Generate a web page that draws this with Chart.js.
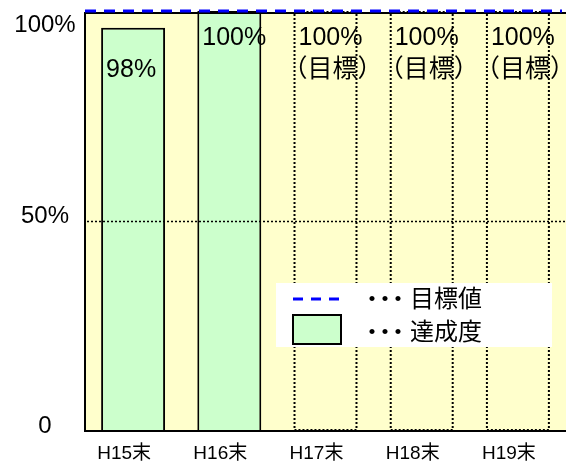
<!DOCTYPE html>
<html>
<head>
<meta charset="utf-8">
<script src="https://cdn.jsdelivr.net/npm/chart.js@4.4.0/dist/chart.umd.min.js"></script>
<style>
  body { margin: 0; background: #fff; }
</style>
</head>
<body>
<canvas id="myChart" width="566" height="462"></canvas>
<script>
let categories = ['H15末', 'H16末', 'H17末', 'H18末', 'H19末'];
let achieved = [96, 100, null, null, null];
let planned = [null, null, 100, 100, 100];
let targetValue = [100];
let yTicks = [0, 50, 100];
let yTickLabels = ['0', '50%', '100%'];
let gridValues = [50];
let barTextTop = ['', '100%', '100%', '100%', '100%'];
let barTextBottom = ['98%', '', '（目標）', '（目標）', '（目標）'];
let legendNames = ['目標値', '達成度'];

const FONT = "'Liberation Sans', 'Noto Sans CJK JP', sans-serif";
const BG = '#FFFFCC';
const GREEN = '#CCFFCC';

// everything the library does not draw by itself
let chartDeco = {
  id: 'chartDeco',
  beforeDatasetsDraw(chart) {
    let a = chart.chartArea, ctx = chart.ctx;
    ctx.save();
    ctx.fillStyle = BG;
    ctx.fillRect(a.left, a.top + 2, a.right - a.left, a.bottom - a.top - 2);
    ctx.restore();
  },
  afterDatasetsDraw(chart) {
    let a = chart.chartArea, ctx = chart.ctx;
    let ys = chart.scales.y;
    let meta = chart.getDatasetMeta(1);
    ctx.save();
    ctx.strokeStyle = '#000';
    ctx.lineWidth = 2;
    ctx.setLineDash([2, 2]);
    meta.data.forEach(function (bar, i) {
      if (planned[i] == null) return;
      let p = bar.getProps(['x', 'y', 'base', 'width'], true);
      ctx.strokeRect(p.x - p.width / 2 + 1, p.y + 1, p.width - 2, p.base - p.y - 2);
    });
    // dotted grid line over the bars
    ctx.lineWidth = 1.5;
    ctx.setLineDash([2, 2]);
    gridValues.forEach(function (v) {
      let y = Math.round(ys.getPixelForValue(v)) + 0.5;
      ctx.beginPath();
      ctx.moveTo(a.left + 2, y);
      ctx.lineTo(a.right, y);
      ctx.stroke();
    });
    ctx.restore();
  },
  afterDraw(chart) {
    let a = chart.chartArea, ctx = chart.ctx;
    let xs = chart.scales.x, ys = chart.scales.y;
    ctx.save();

    // frame
    ctx.strokeStyle = '#000';
    ctx.lineWidth = 2;
    ctx.setLineDash([]);
    ctx.beginPath();
    ctx.moveTo(a.right, a.top + 2);
    ctx.lineTo(a.left, a.top + 2);
    ctx.lineTo(a.left, a.bottom);
    ctx.lineTo(a.right, a.bottom);
    ctx.stroke();

    // target line
    let ty = ys.getPixelForValue(targetValue[0]);
    ctx.strokeStyle = '#0000FF';
    ctx.lineWidth = 3;
    ctx.setLineDash([11, 8]);
    ctx.beginPath();
    ctx.moveTo(a.left, ty);
    ctx.lineTo(a.right - 4, ty);
    ctx.stroke();
    ctx.setLineDash([]);

    // y tick labels
    ctx.fillStyle = '#000';
    ctx.font = '24px ' + FONT;
    ctx.textAlign = 'center';
    ctx.textBaseline = 'middle';
    yTicks.forEach(function (v, i) {
      let y = ys.getPixelForValue(v) - 5;
      if (y < a.top + 14) y = a.top + 14;
      ctx.fillText(yTickLabels[i], 45, y);
    });

    // texts inside bars
    ctx.font = '25px ' + FONT;
    ctx.textAlign = 'left';
    let bw = chart.getDatasetMeta(0).data[0].width;
    categories.forEach(function (c, i) {
      let left = xs.getPixelForValue(i) - bw / 2;
      [barTextTop[i], barTextBottom[i]].forEach(function (t, k) {
        if (!t) return;
        let m = ctx.measureText(t);
        ctx.fillText(t, left + 6 + m.actualBoundingBoxLeft, ty + 27 + k * 32);
      });
    });

    // legend
    ctx.font = '24px ' + FONT;
    let lx = a.left + 191, ly = 283;
    ctx.fillStyle = '#fff';
    ctx.fillRect(lx, ly, 276, 64);
    ctx.strokeStyle = '#0000FF';
    ctx.lineWidth = 3;
    ctx.setLineDash([10, 8]);
    ctx.beginPath();
    ctx.moveTo(lx + 17, ly + 16);
    ctx.lineTo(lx + 65, ly + 16);
    ctx.stroke();
    ctx.setLineDash([]);
    ctx.fillStyle = GREEN;
    ctx.fillRect(lx + 17, ly + 32, 48, 29);
    ctx.strokeStyle = '#000';
    ctx.lineWidth = 2;
    ctx.strokeRect(lx + 17, ly + 32, 48, 29);
    ctx.fillStyle = '#000';
    legendNames.forEach(function (name, i) {
      let y = ly + 17 + i * 33;
      ctx.letterSpacing = '-11px';
      ctx.fillText('・・・', lx + 84, y);
      ctx.letterSpacing = '0px';
      ctx.fillText(name, lx + 134, y);
    });
    ctx.restore();
  }
};

let data = {
  labels: categories,
  datasets: [
    {
      label: '達成度',
      data: achieved,
      backgroundColor: GREEN,
      borderColor: '#000',
      borderWidth: 2,
      grouped: false,
      barPercentage: 0.665,
      categoryPercentage: 1
    },
    {
      label: '目標',
      data: planned,
      backgroundColor: 'rgba(0,0,0,0)',
      borderWidth: 0,
      grouped: false,
      barPercentage: 0.665,
      categoryPercentage: 1
    }
  ]
};

let config = {
  type: 'bar',
  data: data,
  options: {
    responsive: false,
    animation: false,
    layout: { padding: { top: 11, right: 0, left: 0, bottom: 0 } },
    plugins: { legend: { display: false }, tooltip: { enabled: false } },
    scales: {
      x: {
        grid: { display: false, drawTicks: false },
        border: { display: false },
        ticks: {
          color: '#000',
          font: { family: FONT, size: 19 },
          padding: 11,
          labelOffset: -9,
          maxRotation: 0
        },
        afterFit: function (s) { s.height = 31; }
      },
      y: {
        min: 0,
        max: 100,
        afterBuildTicks: function (s) { s.ticks = yTicks.map(function (v) { return { value: v }; }); },
        ticks: { display: false },
        grid: { display: false, drawTicks: false },
        border: { display: false },
        afterFit: function (s) { s.width = 85; }
      }
    }
  },
  plugins: [chartDeco]
};

let myChart = new Chart(document.getElementById('myChart'), config);
</script>
</body>
</html>
